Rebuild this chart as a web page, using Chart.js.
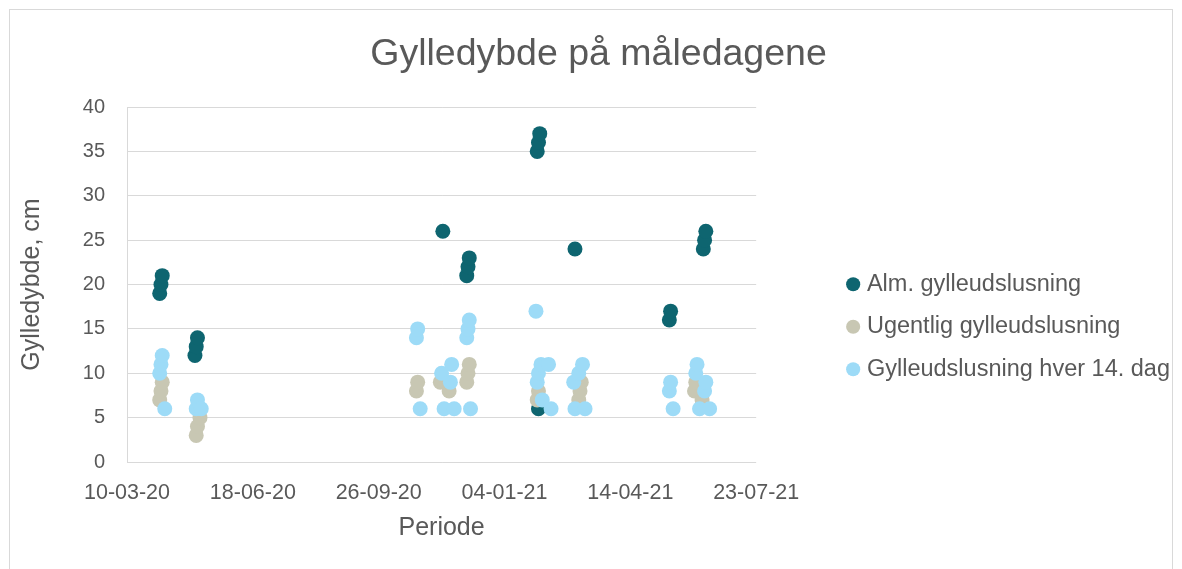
<!DOCTYPE html>
<html>
<head>
<meta charset="utf-8">
<script src="https://cdn.jsdelivr.net/npm/chart.js@4/dist/chart.umd.min.js"></script>
<style>
  html, body { margin: 0; padding: 0; background: #fff; overflow: hidden; }
  #frame { position: absolute; left: 9px; top: 9px; width: 1164px; height: 570px; border: 1px solid #d9d9d9; box-sizing: border-box; }
  #wrap { position: absolute; left: 17px; top: 10px; width: 1163px; height: 550px; }
</style>
</head>
<body>
<div id="frame"></div>
<div id="wrap"><canvas id="c"></canvas></div>
<script>
const seriesNames = ['Alm. gylleudslusning', 'Ugentlig gylleudslusning', 'Gylleudslusning hver 14. dag'];
const seriesColors = ['#0E6570', '#C8C7B3', '#9DDBF7'];

const almDates = ['2020-04-05','2020-04-06','2020-04-07','2020-05-03','2020-05-04','2020-05-05',
  '2020-11-16','2020-12-05','2020-12-06','2020-12-07','2021-01-30','2021-01-31','2021-02-01','2021-01-31',
  '2021-03-01','2021-05-15','2021-05-16','2021-06-11','2021-06-12','2021-06-13'];
const almValues = [19, 20, 21, 12, 13, 14, 26, 21, 22, 23, 35, 36, 37, 6, 24, 16, 17, 24, 25, 26];

const ugeDates = ['2020-04-05','2020-04-06','2020-04-07','2020-05-04','2020-05-05','2020-05-07',
  '2020-10-26','2020-10-27','2020-11-14','2020-11-21','2020-12-05','2020-12-06','2020-12-07',
  '2021-01-30','2021-01-31','2021-03-04','2021-03-05','2021-03-06','2021-06-04','2021-06-05','2021-06-10'];
const ugeValues = [7, 8, 9, 3, 4, 5, 8, 9, 9, 8, 9, 10, 11, 7, 8, 7, 8, 9, 8, 9, 7];

const hverDates = ['2020-04-05','2020-04-06','2020-04-07','2020-04-09','2020-05-04','2020-05-05','2020-05-08',
  '2020-10-26','2020-10-27','2020-10-29','2020-11-15','2020-11-17','2020-11-22','2020-11-23','2020-11-25',
  '2020-12-05','2020-12-06','2020-12-07','2020-12-08','2021-01-29','2021-01-30','2021-01-31','2021-02-02',
  '2021-02-08','2021-02-03','2021-02-10','2021-02-28','2021-03-04','2021-03-07','2021-03-01','2021-03-09',
  '2021-05-15','2021-05-16','2021-05-18','2021-06-05','2021-06-06','2021-06-08','2021-06-12','2021-06-13','2021-06-16'];
const hverValues = [10, 11, 12, 6, 6, 7, 6, 14, 15, 6, 10, 6, 9, 11, 6, 14, 15, 16, 6, 17, 9, 10, 11,
  11, 7, 6, 9, 10, 11, 6, 6, 8, 9, 6, 10, 11, 6, 8, 9, 6];

const xStart = '2020-03-10';
const xEnd = '2021-07-23';
const yTicksMax = 40;

function dayNum(s) {
  const p = s.split('-').map(Number);
  return Date.UTC(p[0], p[1] - 1, p[2]) / 86400000;
}
function fmtDay(v) {
  const d = new Date(v * 86400000);
  const pad = n => String(n).padStart(2, '0');
  return pad(d.getUTCDate()) + '-' + pad(d.getUTCMonth() + 1) + '-' + pad(d.getUTCFullYear() % 100);
}
function points(dates, values) {
  return dates.map((d, i) => ({ x: dayNum(d), y: values[i] }));
}

const txt = '#595959';
const grid = '#d9d9d9';
const fam = "'Liberation Sans', Arial, sans-serif";

const allData = [points(almDates, almValues), points(ugeDates, ugeValues), points(hverDates, hverValues)];

new Chart(document.getElementById('c'), {
  type: 'scatter',
  data: {
    datasets: allData.map((pts, i) => ({
      label: seriesNames[i],
      data: pts,
      backgroundColor: seriesColors[i],
      borderColor: seriesColors[i],
      borderWidth: 0,
      pointRadius: 7.5,
      pointHoverRadius: 7.5,
      order: 3 - i
    }))
  },
  options: {
    responsive: true,
    maintainAspectRatio: false,
    animation: false,
    layout: { padding: 0 },
    plugins: {
      tooltip: { enabled: false },
      title: {
        display: true,
        text: 'Gylledybde på måledagene',
        color: txt,
        font: { family: fam, size: 37.5, weight: 'normal' },
        padding: { top: 22, bottom: 30 }
      },
      legend: {
        position: 'right',
        fullSize: false,
        maxWidth: 420,
        title: { display: true, text: '', padding: { top: 0, bottom: 70 } },
        labels: {
          usePointStyle: true,
          pointStyle: 'circle',
          boxWidth: 4,
          boxHeight: 10,
          padding: 19,
          color: txt,
          font: { family: fam, size: 23.5 },
          sort: (a, b) => a.datasetIndex - b.datasetIndex
        }
      }
    },
    scales: {
      x: {
        type: 'linear',
        min: dayNum(xStart),
        max: dayNum(xEnd),
        grid: { display: false, drawTicks: false },
        border: { display: false },
        ticks: {
          stepSize: 100,
          autoSkip: false,
          maxRotation: 0,
          padding: 18,
          color: txt,
          font: { family: fam, size: 21.5 },
          callback: v => fmtDay(v)
        },
        title: {
          display: true,
          text: 'Periode',
          color: txt,
          font: { family: fam, size: 25 },
          padding: { top: 0, bottom: 17 }
        },
        afterFit: s => { s.height = 98; }
      },
      y: {
        min: 0,
        max: yTicksMax,
        grid: { color: grid, lineWidth: 1, drawTicks: false },
        border: { display: true, color: grid },
        ticks: {
          stepSize: 5,
          padding: 22,
          color: txt,
          font: { family: fam, size: 20 }
        },
        title: {
          display: true,
          text: 'Gylledybde, cm',
          color: txt,
          font: { family: fam, size: 25 },
          padding: { top: 0, bottom: 0 }
        },
        afterFit: s => { s.width = 110; }
      },
      gap: {
        type: 'linear',
        position: 'right',
        display: true,
        grid: { display: false, drawTicks: false },
        border: { display: false },
        ticks: { display: false },
        afterFit: s => { s.width = 76; }
      }
    }
  }
});
</script>
</body>
</html>
